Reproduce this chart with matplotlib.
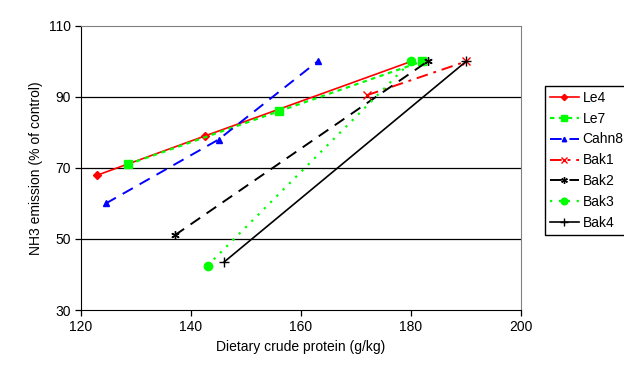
import numpy as np
import matplotlib.pyplot as plt

plt.rcParams['font.family'] = ['Liberation Sans', 'DejaVu Sans']

# series
le4_x = [123, 142.5, 180]
le4_y = [68, 79, 100]
le7_x = [128.5, 156, 182]
le7_y = [71, 86, 100]
cahn8_x = [124.5, 145, 163]
cahn8_y = [60, 78, 100]
bak1_x = [172, 190]
bak1_y = [90.5, 100]
bak2_x = [137, 183]
bak2_y = [51, 100]
bak3_x = [143, 180]
bak3_y = [42.5, 100]
bak4_x = [146, 190]
bak4_y = [43.5, 100]

x_ticks = [120, 140, 160, 180, 200]
y_ticks = [30, 50, 70, 90, 110]

fig = plt.figure(figsize=(6.24, 3.71), dpi=100)
ax = fig.add_axes([0.1298, 0.1644, 0.7052, 0.7656])

for y in [50, 70, 90]:
    ax.axhline(y, color="black", lw=0.9, zorder=1)

ax.plot(le4_x, le4_y, color="#ff0000", lw=1.2, marker="D", ms=4, label="Le4", zorder=3)
ax.plot(le7_x, le7_y, color="#00ff00", lw=1.6, ls=(0, (2, 2)), marker="s", ms=6, label="Le7", zorder=3)
ax.plot(cahn8_x, cahn8_y, color="#0000ff", lw=1.4, ls=(0, (6, 4)), marker="^", ms=4, label="Cahn8", zorder=3)
ax.plot(bak1_x, bak1_y, color="#ff0000", lw=1.4, ls=(0, (6, 3, 1.5, 3)), marker="x", ms=6, mew=1, label="Bak1", zorder=3)
ax.plot(bak2_x, bak2_y, color="black", lw=1.4, ls=(0, (6, 4)), marker=(6, 2, 0), ms=6, mew=1, label="Bak2", zorder=3)
ax.plot(bak3_x, bak3_y, color="#00ff00", lw=1.6, ls=(0, (1, 3)), marker="o", ms=6, label="Bak3", zorder=3)
ax.plot(bak4_x, bak4_y, color="black", lw=1.2, marker="+", ms=7, mew=1, label="Bak4", zorder=3)

ax.set_xlim(120, 200)
ax.set_ylim(30, 110)
ax.set_xticks(x_ticks)
ax.set_yticks(y_ticks)
ax.tick_params(direction="out", length=4, width=0.9, labelsize=10, colors="black")
for side in ["left", "bottom"]:
    ax.spines[side].set_color("black")
for side in ["top", "right"]:
    ax.spines[side].set_color("#808080")

ax.set_xlabel("Dietary crude protein (g/kg)", fontsize=10)
ax.set_ylabel("NH3 emission (% of control)", fontsize=10)

fig.legend(loc="upper left", bbox_to_anchor=(0.8734, 0.769), fontsize=10,
           frameon=True, fancybox=False, edgecolor="black", framealpha=1,
           handlelength=2.1, borderpad=0.35, labelspacing=0.5, handletextpad=0.25,
           borderaxespad=0, markerscale=0.8)

fig.savefig("out.png", dpi=100)
